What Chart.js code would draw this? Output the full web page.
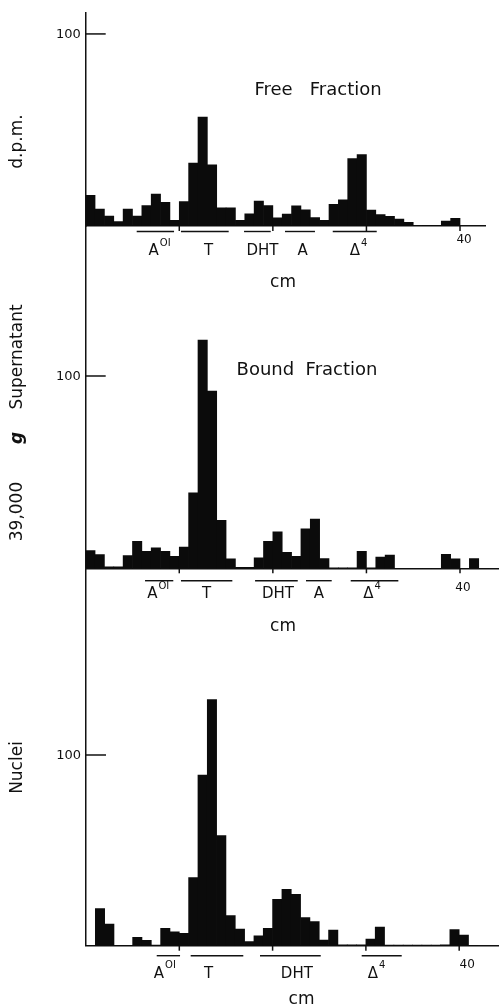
<!DOCTYPE html>
<html>
<head>
<meta charset="utf-8">
<script src="https://cdn.jsdelivr.net/npm/chart.js@4.4.1/dist/chart.umd.min.js"></script>
<style>
  html, body { margin: 0; padding: 0; background: #fff; }
  #wrap { position: relative; width: 499px; height: 1006px; }
  #wrap canvas { position: absolute; left: 0; top: 0; }
</style>
</head>
<body>
<div id="wrap">
  <canvas id="freeChart" width="499" height="1006"></canvas>
  <canvas id="boundChart" width="499" height="1006"></canvas>
  <canvas id="nucleiChart" width="499" height="1006"></canvas>
</div>
<script>
// ========= DATA =================== //
// 1 cm slices of the chromatogram, value at the middle of each slice
const binCenters = [0.5, 1.5, 2.5, 3.5, 4.5, 5.5, 6.5, 7.5, 8.5, 9.5,
  10.5, 11.5, 12.5, 13.5, 14.5, 15.5, 16.5, 17.5, 18.5, 19.5,
  20.5, 21.5, 22.5, 23.5, 24.5, 25.5, 26.5, 27.5, 28.5, 29.5,
  30.5, 31.5, 32.5, 33.5, 34.5, 35.5, 36.5, 37.5, 38.5, 39.5,
  40.5, 41.5, 42.5];

const freeDpm = [16, 8.8, 5.2, 2.3, 8.8, 5.2, 10.6, 16.6, 12.3, 2.9,
  12.7, 32.8, 56.7, 31.9, 9.5, 9.5, 2.9, 6.4, 13, 10.6,
  4.2, 6.2, 10.5, 8.4, 4.4, 3, 11.3, 13.6, 35.1, 37.2,
  8.3, 5.9, 5, 3.6, 1.9, 0, 0.4, 0.4, 2.5, 4];

const boundDpm = [9.2, 7.1, 0.7, 0.7, 6.6, 14, 8.8, 10.6, 8.8, 6.2,
  11, 39.2, 118.7, 92.2, 25, 4.9, 0.5, 0.5, 5.4, 14,
  18.9, 8.3, 6.2, 20.5, 25.6, 5, 0.3, 0.3, 0.3, 8.8,
  0.3, 5.8, 6.9, 0, 0, 0, 0, 0, 7.3, 4.9,
  0, 5, 0];

const nucleiDpm = [0, 19.5, 11.3, 0, 0, 4.4, 2.8, 0.3, 9.1, 7.3,
  6.5, 35.7, 89.5, 129, 57.7, 15.8, 8.7, 2.1, 5.2, 9.1,
  24.3, 29.5, 27, 14.7, 12.6, 3, 8.2, 0.5, 0.5, 0.5,
  3.5, 9.8, 0.3, 0.3, 0.3, 0.3, 0.3, 0.3, 0.5, 8.4,
  5.6, 0];

const xTickValues = [10, 20, 30, 40];
const xTickLabels = ["", "", "", "40"];
const yTickValues = [100];

// standards: [name, superscript, from cm, to cm, label cm]
const freeMarks = [
  ["A", "OI", 5.45, 9.44, 7.89],
  ["T", "", 10.18, 15.28, 13.12],
  ["DHT", "", 16.92, 19.77, 18.89],
  ["A", "", 21.3, 24.5, 23.17],
  ["\u0394", "4", 26.4, 31.1, 29.15],
];
const boundMarks = [
  ["A", "OI", 6.34, 9.36, 7.75],
  ["T", "", 10.18, 15.67, 12.93],
  ["DHT", "", 18.1, 22.66, 20.55],
  ["A", "", 23.54, 26.29, 24.93],
  ["\u0394", "4", 28.32, 33.41, 30.6],
];
const nucleiMarks = [
  ["A", "OI", 7.58, 10.08, 8.45],
  ["T", "", 11.22, 16.86, 13.15],
  ["DHT", "", 18.65, 25.16, 22.6],
  ["\u0394", "4", 29.55, 33.84, 31.14],
];

const FONT = "'DejaVu Sans', sans-serif";
const INK = "#111";

// ========= DECORATION PLUGIN =================== //
function decor(cfg) {
  return {
    id: "decor",
    afterDraw(chart) {
      const ctx = chart.ctx;
      const xs = chart.scales.x;
      const ys = chart.scales.y;
      const area = chart.chartArea;
      ctx.save();
      ctx.fillStyle = INK;
      ctx.strokeStyle = INK;
      ctx.lineWidth = 1.5;

      // y ticks point into the plot
      ctx.font = "13px " + FONT;
      ctx.textAlign = "right";
      ctx.textBaseline = "middle";
      yTickValues.forEach((v) => {
        const py = ys.getPixelForValue(v);
        ctx.beginPath();
        ctx.moveTo(area.left, py);
        ctx.lineTo(area.left + 20, py);
        ctx.stroke();
        ctx.fillText(String(v), area.left - 5, py + 0.5);
      });

      // x ticks below the baseline
      ctx.font = "12px " + FONT;
      ctx.textAlign = "center";
      xTickValues.forEach((v, i) => {
        const px = xs.getPixelForValue(v);
        ctx.beginPath();
        ctx.moveTo(px, area.bottom);
        ctx.lineTo(px, area.bottom + 5);
        ctx.stroke();
        if (xTickLabels[i]) {
          ctx.fillText(xTickLabels[i], px + cfg.tickDx, area.bottom + cfg.tickDy);
        }
      });

      // standards bars + names
      cfg.marks.forEach((m) => {
        const x1 = xs.getPixelForValue(m[2]);
        const x2 = xs.getPixelForValue(m[3]);
        const yl = area.bottom + cfg.lineDy;
        ctx.lineWidth = 1.4;
        ctx.beginPath();
        ctx.moveTo(x1, yl);
        ctx.lineTo(x2, yl);
        ctx.stroke();

        ctx.font = "15px " + FONT;
        const wBase = ctx.measureText(m[0]).width;
        ctx.font = "10px " + FONT;
        const wSup = m[1] ? ctx.measureText(m[1]).width + 1 : 0;
        const cx = xs.getPixelForValue(m[4]);
        const left = cx - (wBase + wSup) / 2;
        const yt = area.bottom + cfg.labelDy;
        ctx.textAlign = "left";
        ctx.font = "15px " + FONT;
        ctx.fillText(m[0], left, yt);
        if (m[1]) {
          ctx.font = "10px " + FONT;
          ctx.fillText(m[1], left + wBase + 1, yt - 8);
        }
      });

      // axis unit
      ctx.textAlign = "center";
      ctx.font = "17px " + FONT;
      ctx.fillText("cm", cfg.cm[0], cfg.cm[1]);

      // panel title
      if (cfg.title) {
        ctx.font = "18px " + FONT;
        ctx.fillText(cfg.title[0], cfg.title[1], cfg.title[2]);
      }

      // rotated y titles
      cfg.yTitle.forEach((t) => {
        ctx.save();
        ctx.translate(18, t[1]);
        ctx.rotate(-Math.PI / 2);
        ctx.font = (t[2] ? "italic bold " : "") + "17px " + FONT;
        ctx.textAlign = "center";
        ctx.textBaseline = "middle";
        ctx.fillText(t[0], 0, 0);
        ctx.restore();
      });
      ctx.restore();
    },
  };
}

// ========= CHART FACTORY =================== //
function makePanel(id, values, pad, yMax, xMax, cfg) {
  const points = values.map((v, i) => ({ x: binCenters[i], y: v }));
  return new Chart(document.getElementById(id).getContext("2d"), {
    type: "bar",
    data: {
      datasets: [
        {
          data: points,
          backgroundColor: "#0b0b0b",
          borderWidth: 0,
          barPercentage: 1,
          categoryPercentage: 1,
        },
      ],
    },
    options: {
      responsive: false,
      animation: false,
      events: [],
      devicePixelRatio: 1,
      layout: { padding: pad },
      plugins: { legend: { display: false }, tooltip: { enabled: false } },
      scales: {
        x: {
          type: "linear",
          offset: false,
          min: 0,
          max: xMax,
          grid: { display: false, drawTicks: false },
          ticks: { display: false },
          border: { display: true, color: INK, width: 1.5 },
        },
        y: {
          min: 0,
          max: yMax,
          grid: { display: false, drawTicks: false },
          ticks: { display: false },
          border: { display: true, color: INK, width: 1.5 },
        },
      },
    },
    plugins: [decor(cfg)],
  });
}

// ========= FREE FRACTION =================== //
let freeChart = makePanel("freeChart", freeDpm,
  { left: 85.7, right: 14, top: 13, bottom: 780 }, 110.9, 42.67, {
    marks: freeMarks, lineDy: 5.5, labelDy: 25, tickDx: 4, tickDy: 14,
    cm: [283, 283], title: ["Free   Fraction", 318, 90],
    yTitle: [["d.p.m.", 141.5, false]],
  });

// ========= BOUND FRACTION =================== //
let boundChart = makePanel("boundChart", boundDpm,
  { left: 85.7, right: 1, top: 226, bottom: 437.7 }, 178, 44.06, {
    marks: boundMarks, lineDy: 12.4, labelDy: 25.7, tickDx: 3, tickDy: 20,
    cm: [283, 626.7], title: ["Bound  Fraction", 307, 370],
    yTitle: [["39,000", 511.5, false], ["g", 438, true], ["Supernatant", 357, false]],
  });

// ========= NUCLEI =================== //
let nucleiChart = makePanel("nucleiChart", nucleiDpm,
  { left: 86, right: 1, top: 568.3, bottom: 60.3 }, 197.9, 44.16, {
    marks: nucleiMarks, lineDy: 10, labelDy: 28, tickDx: 8, tickDy: 19,
    cm: [301.5, 1000], title: null,
    yTitle: [["Nuclei", 767.5, false]],
  });
</script>
</body>
</html>
